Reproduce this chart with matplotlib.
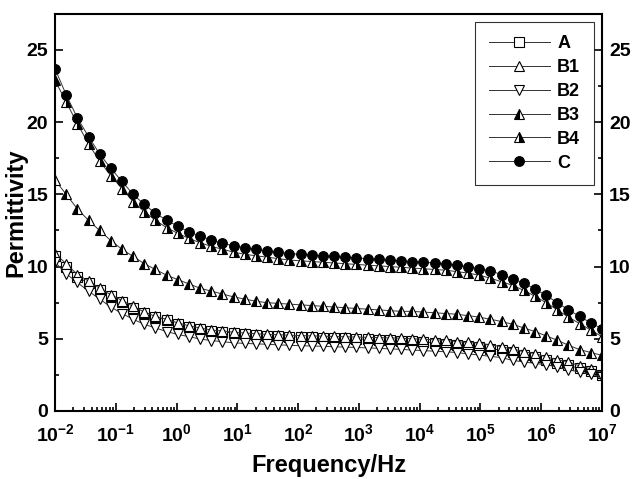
import numpy as np
import matplotlib
matplotlib.use("Agg")
import matplotlib.pyplot as plt
from matplotlib.ticker import MultipleLocator, LogLocator, FixedLocator, FixedFormatter, NullFormatter

plt.rcParams['font.family'] = ['Liberation Sans', 'DejaVu Sans']
plt.rcParams['font.weight'] = 'bold'
plt.rcParams['mathtext.fontset'] = 'custom'
plt.rcParams['mathtext.rm'] = 'Liberation Sans:bold'
plt.rcParams['mathtext.bf'] = 'Liberation Sans:bold'

# Frequency sweep (Hz), 50 points log spaced from 1e-2 to 1e7
freq = np.logspace(-2, 7, 50)

# Permittivity
A = [10.7, 10.0, 9.3, 8.85, 8.4, 7.95, 7.55, 7.15, 6.8, 6.5,
     6.3, 6.05, 5.85, 5.7, 5.55, 5.48, 5.4, 5.33, 5.28, 5.22,
     5.18, 5.15, 5.12, 5.1, 5.07, 5.04, 5.02, 5.0, 4.97, 4.94,
     4.91, 4.87, 4.83, 4.78, 4.72, 4.65, 4.58, 4.5, 4.42, 4.32,
     4.2, 4.06, 3.9, 3.75, 3.55, 3.35, 3.15, 2.95, 2.75, 2.5]
B1 = [10.9, 10.2, 9.45, 9.0, 8.5, 8.05, 7.65, 7.25, 6.85, 6.55,
      6.35, 6.1, 5.9, 5.75, 5.6, 5.55, 5.45, 5.4, 5.35, 5.3,
      5.28, 5.25, 5.22, 5.2, 5.18, 5.16, 5.14, 5.12, 5.1, 5.08,
      5.06, 5.04, 5.0, 4.97, 4.93, 4.9, 4.8, 4.75, 4.7, 4.58,
      4.45, 4.3, 4.1, 3.98, 3.75, 3.55, 3.4, 3.12, 2.92, 2.65]
B2 = [10.3, 9.5, 8.9, 8.3, 7.75, 7.2, 6.75, 6.35, 6.0, 5.75,
      5.5, 5.3, 5.15, 4.98, 4.88, 4.8, 4.72, 4.68, 4.65, 4.62,
      4.58, 4.55, 4.52, 4.5, 4.48, 4.45, 4.42, 4.4, 4.37, 4.34,
      4.3, 4.27, 4.22, 4.18, 4.14, 4.1, 4.05, 3.95, 3.88, 3.78,
      3.7, 3.5, 3.4, 3.3, 3.2, 3.05, 2.85, 2.7, 2.55, 2.35]
B3 = [16.0, 15.0, 14.0, 13.2, 12.5, 11.8, 11.2, 10.7, 10.2, 9.8,
      9.4, 9.1, 8.8, 8.5, 8.3, 8.1, 7.9, 7.75, 7.6, 7.5,
      7.45, 7.4, 7.35, 7.3, 7.25, 7.2, 7.15, 7.1, 7.05, 7.0,
      6.95, 6.9, 6.9, 6.85, 6.8, 6.75, 6.7, 6.6, 6.5, 6.35,
      6.2, 6.0, 5.75, 5.5, 5.2, 4.9, 4.55, 4.25, 4.05, 3.85]
B4 = [22.9, 21.4, 19.9, 18.5, 17.3, 16.3, 15.4, 14.5, 13.8, 13.2,
      12.7, 12.3, 11.95, 11.65, 11.4, 11.2, 11.0, 10.85, 10.75, 10.65,
      10.55, 10.45, 10.4, 10.35, 10.3, 10.25, 10.2, 10.15, 10.1, 10.05,
      10.0, 9.95, 9.9, 9.85, 9.8, 9.75, 9.65, 9.55, 9.4, 9.2,
      8.95, 8.7, 8.35, 7.95, 7.5, 7.0, 6.5, 6.05, 5.6, 5.15]
C = [23.7, 21.9, 20.3, 19.0, 17.8, 16.8, 15.9, 15.0, 14.3, 13.7,
     13.2, 12.8, 12.4, 12.1, 11.85, 11.6, 11.45, 11.3, 11.2, 11.1,
     11.0, 10.9, 10.85, 10.8, 10.75, 10.7, 10.65, 10.6, 10.55, 10.5,
     10.45, 10.4, 10.35, 10.3, 10.25, 10.2, 10.1, 10.0, 9.85, 9.7,
     9.45, 9.15, 8.85, 8.45, 8.0, 7.5, 7.0, 6.55, 6.1, 5.7]

fig = plt.figure(figsize=(6.36, 4.79), dpi=100)
ax = fig.add_axes([0.0865, 0.142, 0.86, 0.829])

common = dict(color='#333333', lw=0.7, markersize=7, markeredgecolor='black',
              markeredgewidth=0.8)
ax.plot(freq, A, marker='s', markerfacecolor='white', label='A', **common)
ax.plot(freq, B1, marker='^', markerfacecolor='white', label='B1', **common)
ax.plot(freq, B2, marker='v', markerfacecolor='white', label='B2', **common)
ax.plot(freq, B3, marker='^', fillstyle='left', markerfacecolor='black',
        markerfacecoloralt='white', label='B3', **common)
ax.plot(freq, B4, marker='^', fillstyle='right', markerfacecolor='black',
        markerfacecoloralt='white', label='B4', **common)
ax.plot(freq, C, marker='o', markerfacecolor='black', label='C', **common)

ax.set_xscale('log')
ax.set_xlim(1e-2, 1e7)
ax.set_ylim(0, 27.5)

for s in ax.spines.values():
    s.set_linewidth(1.5)

decades = [10.0**k for k in range(-2, 8)]
ax.xaxis.set_major_locator(FixedLocator(decades))
ax.xaxis.set_major_formatter(FixedFormatter([r'$10^{%d}$' % k for k in range(-2, 8)]))
ax.xaxis.set_minor_locator(LogLocator(base=10, subs=np.arange(2, 10), numticks=20))
ax.xaxis.set_minor_formatter(NullFormatter())
ax.yaxis.set_major_locator(MultipleLocator(5))
ax.yaxis.set_minor_locator(MultipleLocator(2.5))

ax.tick_params(axis='both', which='both', direction='in', top=False, right=True,
               labelright=True, labelsize=14, width=1.2)
ax.tick_params(which='major', length=6)
ax.tick_params(which='minor', length=3)
ax.tick_params(axis='x', pad=9)
ax.tick_params(axis='y', pad=5)

ax.set_xlabel('Frequency/Hz', fontsize=17, fontweight='bold', labelpad=6)
ax.set_ylabel('Permittivity', fontsize=17, fontweight='bold')
ax.yaxis.set_label_coords(-0.05, 0.5)

leg = ax.legend(loc='upper right', bbox_to_anchor=(0.985, 0.98), fontsize=13,
                frameon=True, fancybox=False, edgecolor='black', handlelength=3.4,
                labelspacing=0.38, borderpad=0.75, handletextpad=0.4,
                borderaxespad=0.0)
leg.get_frame().set_linewidth(0.8)
for t in leg.get_texts():
    t.set_fontweight('bold')

fig.savefig('out.png', dpi=100)
